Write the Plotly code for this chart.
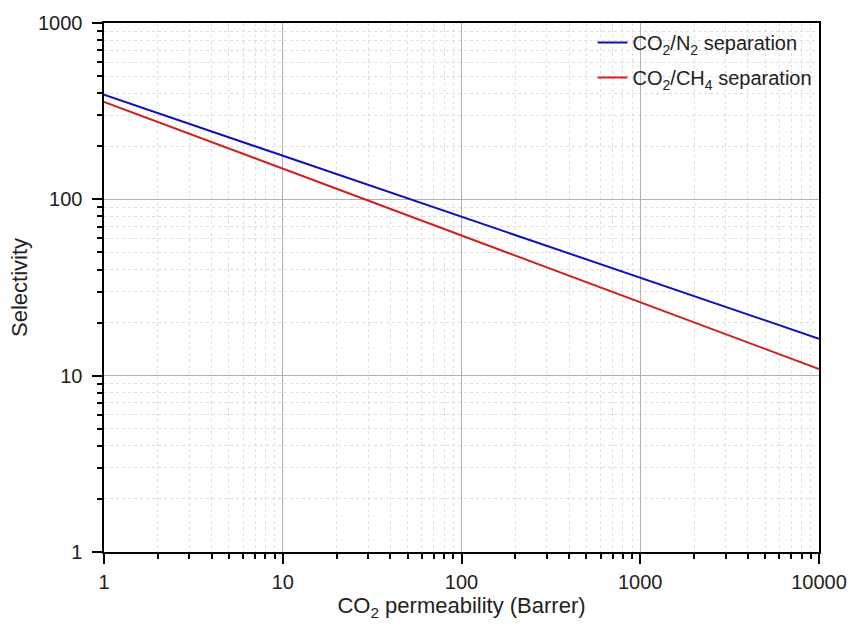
import plotly.graph_objects as go

# Data
permeability = [1, 10, 100, 1000, 10000]
sel_co2_n2 = [392, 176.6, 79.6, 35.8, 16.2]
sel_co2_ch4 = [357, 149, 62.2, 26.0, 10.9]

series_names = ["CO<sub>2</sub>/N<sub>2</sub> separation", "CO<sub>2</sub>/CH<sub>4</sub> separation"]
x_ticks = [1, 10, 100, 1000, 10000]
y_ticks = [1, 10, 100, 1000]
x_minor = [m * 10 ** k for k in range(4) for m in range(2, 10)]
y_minor = [m * 10 ** k for k in range(3) for m in range(2, 10)]

FONT = "Arial, Liberation Sans, sans-serif"

fig = go.Figure()
fig.add_trace(go.Scatter(x=permeability, y=sel_co2_n2, mode="lines", name=series_names[0],
                         line=dict(color="#1010c0", width=2), legendgroup="a"))
fig.add_trace(go.Scatter(x=permeability, y=sel_co2_ch4, mode="lines", name=series_names[1],
                         line=dict(color="#d42020", width=2), legendgroup="b"))

axis_common = dict(
    type="log",
    showline=True, linecolor="black", linewidth=2, mirror=True,
    ticks="outside", ticklen=10, tickwidth=2, tickcolor="black",
    showgrid=True, gridcolor="#b0b0b0", gridwidth=1,
    zeroline=False,
    tickfont=dict(family=FONT, size=20, color="#222"),
)
minor_common = dict(ticks="outside", ticklen=5, tickwidth=2, tickcolor="black",
                    showgrid=True, gridcolor="#dedede", griddash="3px,3px", gridwidth=1)

fig.update_xaxes(**axis_common, automargin=False, range=[0, 4], tickmode="array",
                 tickvals=x_ticks, ticktext=[str(v) for v in x_ticks], ticklabelstandoff=1,
                 minor=dict(**minor_common, tickmode="array", tickvals=x_minor),
                 title=dict(text="CO<sub>2</sub> permeability (Barrer)",
                            font=dict(family=FONT, size=22, color="#222"), standoff=6))
fig.update_yaxes(**axis_common, automargin=True, range=[0, 3], tickmode="array",
                 tickvals=y_ticks, ticktext=[str(v) + "\u00a0" for v in y_ticks],
                 minor=dict(**minor_common, tickmode="array", tickvals=y_minor),
                 title=dict(text="Selectivity", font=dict(family=FONT, size=22, color="#222"),
                            standoff=4))

fig.update_layout(
    width=849, height=630,
    margin=dict(l=104, r=30, t=23, b=78),
    plot_bgcolor="white", paper_bgcolor="white",
    showlegend=True,
    legend=dict(x=0.998, y=1.0, xanchor="right", yanchor="top",
                bgcolor="rgba(0,0,0,0)", borderwidth=0,
                font=dict(family=FONT, size=20, color="#222"),
                tracegroupgap=6),
)

fig.write_html("out.html")
